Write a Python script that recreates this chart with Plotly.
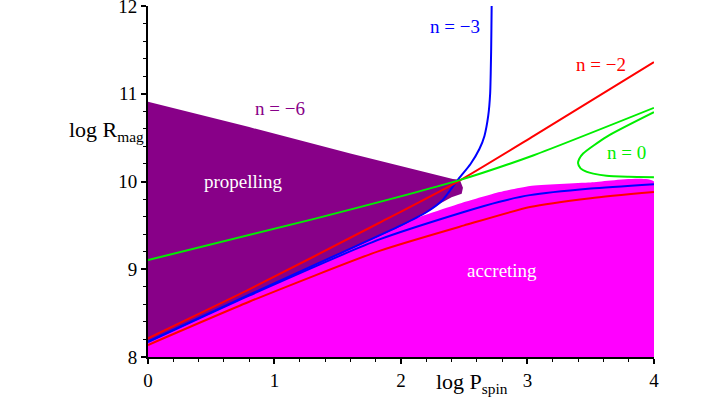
import plotly.graph_objects as go

# ---- data ----
prop_upper_x = [0, 0.8, 1.6, 2.12, 2.41, 2.465, 2.49]
prop_upper_y = [10.91, 10.62, 10.32, 10.13, 10.03, 10.02, 9.93]
prop_lower_x = [2.48, 2.40, 2.31, 2.2, 2.0, 1.5, 0.8, 0]
prop_lower_y = [9.86, 9.82, 9.75, 9.64, 9.49, 9.16, 8.71, 8.17]

acc_top_x = [0, 0.8, 1.5, 2.0, 2.49, 2.78, 3.02, 3.5, 4]
acc_top_y = [8.18, 8.72, 9.19, 9.52, 9.76, 9.88, 9.95, 9.99, 10.0]

red_up_x = [0, 0.8, 1.83, 2.45, 3.05, 4]
red_up_y = [8.213, 8.77, 9.53, 10.0, 10.52, 11.36]
red_lo_x = [0, 0.8, 1.83, 2.5, 3.02, 3.5, 4]
red_lo_y = [8.137, 8.63, 9.21, 9.50, 9.71, 9.81, 9.88]

blue_up_x = [0, 0.8, 1.5, 2.0, 2.2, 2.33, 2.45, 2.55, 2.62, 2.66, 2.69, 2.705, 2.713, 2.717, 2.72]
blue_up_y = [8.175, 8.71, 9.17, 9.50, 9.65, 9.79, 10.02, 10.2, 10.37, 10.52, 10.75, 11.0, 11.5, 12.0, 12.3]
blue_lo_x = [0, 0.8, 1.83, 2.49, 2.78, 3.02, 3.5, 4]
blue_lo_y = [8.17, 8.70, 9.34, 9.65, 9.77, 9.845, 9.92, 9.97]

green_x = [0, 1.33, 2.45, 3.05, 4]
green_y = [9.105, 9.58, 10.01, 10.30, 10.84]
green_loop_x = [4, 3.625, 3.44, 3.41, 3.40, 3.42, 3.47, 3.52, 3.625, 3.8, 4]
green_loop_y = [10.79, 10.51, 10.32, 10.26, 10.21, 10.15, 10.11, 10.09, 10.065, 10.055, 10.05]

x_ticks = [0, 1, 2, 3, 4]
y_ticks = [8, 9, 10, 11, 12]

FONT = "Liberation Serif, Times New Roman, serif"
PURPLE = "#880088"
MAGENTA = "#FF00FF"
RED = "#FF0000"
BLUE = "#0000FF"
GREEN = "#00EE00"

fig = go.Figure()

# accreting region
fig.add_trace(go.Scatter(
    x=acc_top_x + [4, 0], y=acc_top_y + [8, 8],
    fill="toself", fillcolor=MAGENTA,
    line=dict(width=0, color=MAGENTA, shape="spline", smoothing=0.5),
    mode="lines", hoverinfo="skip", showlegend=False))

# propelling region
fig.add_trace(go.Scatter(
    x=prop_upper_x + prop_lower_x, y=prop_upper_y + prop_lower_y,
    fill="toself", fillcolor=PURPLE, line=dict(width=0, color=PURPLE),
    mode="lines", hoverinfo="skip", showlegend=False))

def curve(xs, ys, color):
    fig.add_trace(go.Scatter(x=xs, y=ys, mode="lines",
                             line=dict(color=color, width=2, shape="spline", smoothing=0.6),
                             hoverinfo="skip", showlegend=False))

curve(red_lo_x, red_lo_y, RED)
curve(blue_lo_x, blue_lo_y, BLUE)
curve(blue_up_x, blue_up_y, BLUE)
curve(red_up_x, red_up_y, RED)
curve(green_x, green_y, GREEN)
curve(green_loop_x, green_loop_y, GREEN)

def label(text, x, y, color, size=19, xanchor="center", ref="data"):
    r = dict(xref="x", yref="y") if ref == "data" else dict(xref="paper", yref="paper")
    fig.add_annotation(x=x, y=y, text=text, showarrow=False,
                       xanchor=xanchor, yanchor="middle",
                       font=dict(family=FONT, size=size, color=color), **r)

label("n = −6", 1.04, 10.83, PURPLE)
label("n = −3", 2.425, 11.77, BLUE)
label("n = −2", 3.58, 11.33, RED)
label("n = 0", 3.785, 10.335, GREEN)
label("propelling", 0.755, 10.0, "white")
label("accreting", 2.797, 8.99, "white")
label("log R<sub>mag</sub>", -0.004, 0.645, "black", size=22, xanchor="right", ref="paper")
label("log P<sub>spin</sub>", 0.64, -0.074, "black", size=22, ref="paper")

axis_common = dict(
    showline=True, linecolor="black", linewidth=2,
    ticks="outside", ticklen=5, tickwidth=1.5, tickcolor="black",
    showgrid=False, zeroline=False,
    tickfont=dict(family=FONT, size=19, color="black"),
    minor=dict(dtick=0.2, ticks="outside", ticklen=3, tickwidth=1.2, tickcolor="black", showgrid=False),
)

fig.update_xaxes(range=[0, 4.0005], tickvals=x_ticks, ticktext=[str(v) for v in x_ticks], **axis_common)
fig.update_yaxes(range=[8, 12.0005], tickvals=y_ticks, ticktext=[str(v) for v in y_ticks],
                 ticklabeloverflow="allow", **axis_common)

fig.update_layout(
    width=727, height=397,
    margin=dict(l=148, r=73, t=6, b=40, autoexpand=False),
    paper_bgcolor="white", plot_bgcolor="white",
    showlegend=False,
)

fig.write_html("out.html", config={"displayModeBar": False},
               post_script="document.body.style.margin='0px';")
